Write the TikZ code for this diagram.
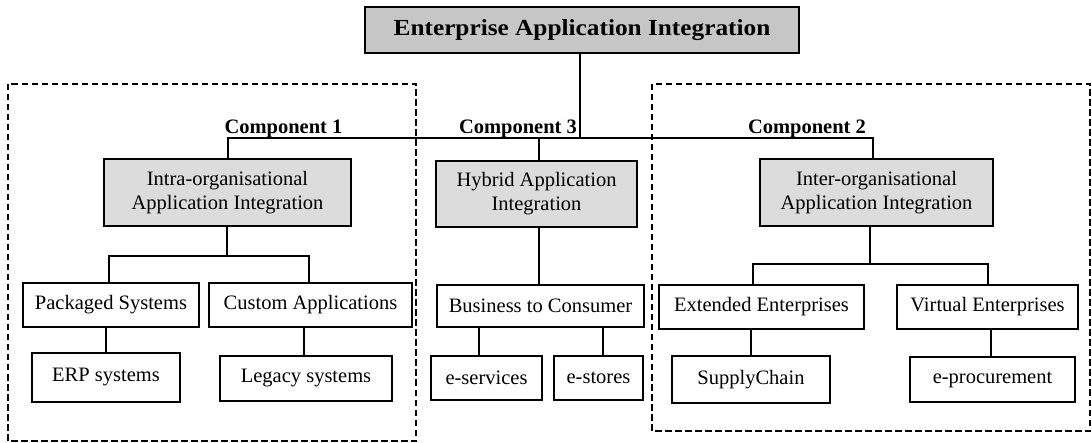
\documentclass[tikz,border=0pt]{standalone}
\usepackage{fontspec}
\usepackage{graphicx}
\setmainfont{Liberation Serif}
\definecolor{hdgray}{RGB}{198,198,198}
\definecolor{grpgray}{RGB}{220,220,220}
\newcommand{\regtext}{\fontsize{20.5}{24}\selectfont}
\newcommand{\comptext}{\fontsize{20.5}{24}\selectfont\bfseries}
\begin{document}
\begin{tikzpicture}[x=1pt,y=-1pt,
  box/.style={draw=black, line width=1.6pt, inner sep=0pt, align=center, font=\regtext},
  greybox/.style={box, fill=grpgray},
  link/.style={draw=black, line width=1.3pt},
  group/.style={draw=black, line width=1.3pt, dash pattern=on 6.5pt off 3.5pt},
  complabel/.style={anchor=base, inner sep=0pt, font=\comptext}]
\useasboundingbox (0,0) rectangle (1092,443);

% dashed frames of the two organisational components
\draw[group] (8,84) rectangle (416,441);
\draw[group] (652,84) rectangle (1090,431);

% root
\node[box, fill=hdgray, minimum width=434pt, minimum height=46pt,
      font=\fontsize{23}{27}\selectfont\bfseries] (root) at (582,30)
      {\scalebox{1.1}[1]{Enterprise Application Integration}};

% component headings
\node[complabel] (lab1) at (283.5,134) {Component 1};
\node[complabel] (lab3) at (518,134) {Component 3};
\node[complabel] (lab2) at (807,134) {Component 2};

% second level
\node[greybox, minimum width=247pt, minimum height=67pt] (intra) at (227.5,192.5)
      {Intra-organisational\\Application Integration};
\node[greybox, minimum width=201pt, minimum height=66pt] (hybrid) at (536.5,194)
      {Hybrid Application\\Integration};
\node[greybox, minimum width=233pt, minimum height=67pt] (inter) at (876.5,192.5)
      {Inter-organisational\\Application Integration};

% third level
\node[box, minimum width=176pt, minimum height=44pt] (pack) at (111,305) {Packaged Systems};
\node[box, minimum width=203pt, minimum height=44pt] (cust) at (310.5,305) {Custom Applications};
\node[box, minimum width=207pt, minimum height=42pt] (btoc) at (540.5,306) {Business to Consumer};
\node[box, minimum width=205pt, minimum height=44pt] (ext) at (761.5,307) {Extended Enterprises};
\node[box, minimum width=181pt, minimum height=44pt] (virt) at (987.5,307) {Virtual Enterprises};

% leaves
\node[box, minimum width=148pt, minimum height=49pt] (erp) at (106,377.5) {ERP systems};
\node[box, minimum width=172pt, minimum height=45pt] (legacy) at (306,378.5) {Legacy systems};
\node[box, minimum width=111pt, minimum height=44pt] (eserv) at (486.5,378) {e-services};
\node[box, minimum width=89pt, minimum height=44pt] (estore) at (598.5,378) {e-stores};
\node[box, minimum width=158pt, minimum height=47pt] (supply) at (751,379.5) {SupplyChain};
\node[box, minimum width=165pt, minimum height=45pt] (eproc) at (992.5,379.5) {e-procurement};

% branching points
\coordinate (rootj) at (580,138);
\coordinate (busL) at (228,138);
\coordinate (busR) at (873,138);
\coordinate (hybj) at (539,138);
\coordinate (intraj) at (227,256);
\coordinate (intraL) at (109,256);
\coordinate (intraR) at (309,256);
\coordinate (interj) at (870,264);
\coordinate (interL) at (753,264);
\coordinate (interR) at (988,264);
\coordinate (custx) at (304,0);
\coordinate (esvx) at (479,0);
\coordinate (estx) at (603,0);
\coordinate (virtx) at (991,0);

% connectors
\draw[link] (root.south -| rootj) -- (rootj);
\draw[link] (intra.north -| busL) -- (busL) -- (busR) -- (inter.north -| busR);
\draw[link] (hybj) -- (hybrid.north -| hybj);

\draw[link] (intra.south -| intraj) -- (intraj);
\draw[link] (pack.north -| intraL) -- (intraL) -- (intraR) -- (cust.north -| intraR);
\draw[link] (pack.south -| erp.north) -- (erp.north);
\draw[link] (cust.south -| custx) -- (legacy.north -| custx);

\draw[link] (hybrid.south -| hybj) -- (btoc.north -| hybj);
\draw[link] (btoc.south -| esvx) -- (eserv.north -| esvx);
\draw[link] (btoc.south -| estx) -- (estore.north -| estx);

\draw[link] (inter.south -| interj) -- (interj);
\draw[link] (ext.north -| interL) -- (interL) -- (interR) -- (virt.north -| interR);
\draw[link] (ext.south -| supply.north) -- (supply.north);
\draw[link] (virt.south -| virtx) -- (eproc.north -| virtx);
\end{tikzpicture}
\end{document}
